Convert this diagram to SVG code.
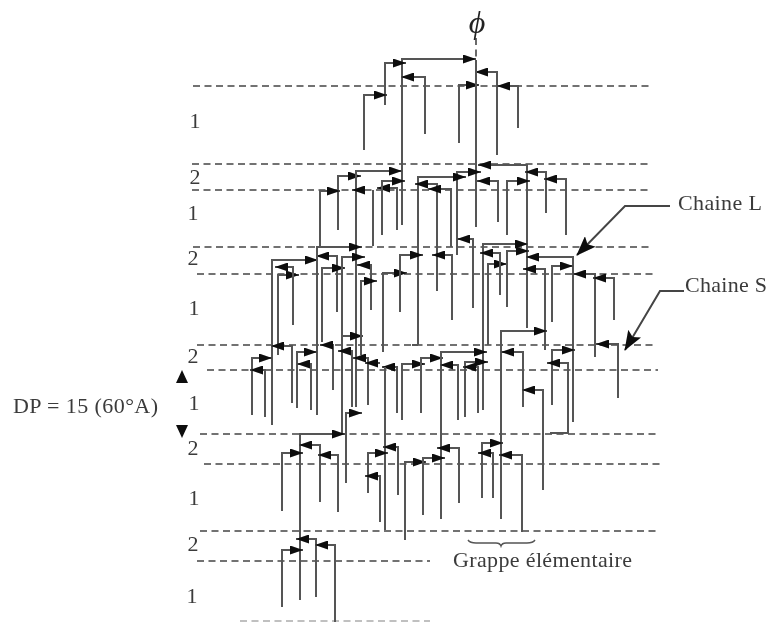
<svg xmlns="http://www.w3.org/2000/svg" width="768" height="622" viewBox="0 0 768 622">
<style>
.d{fill:none;stroke:#444;stroke-width:1.6;stroke-dasharray:7 4.5}
.s{fill:none;stroke:#555;stroke-width:2;marker-end:url(#a)}
.p{fill:none;stroke:#555;stroke-width:2}
.c{fill:none;stroke:#444;stroke-width:2;marker-end:url(#b)}
text{font-family:"Liberation Serif","Times New Roman",serif;fill:#3a3a3a;font-size:22px}
.n{text-anchor:middle}
</style>
<defs>
<marker id="a" markerUnits="userSpaceOnUse" viewBox="0 0 13 9" refX="13" refY="4.5" markerWidth="13" markerHeight="9" orient="auto"><path d="M0 0L13 4.5L0 9Z" fill="#0a0a0a"/></marker>
<marker id="b" markerUnits="userSpaceOnUse" viewBox="0 0 20 15" refX="19" refY="7.5" markerWidth="20" markerHeight="15" orient="auto"><path d="M0 0L20 7.5L0 15L4 7.5Z" fill="#0a0a0a"/></marker>
<filter id="f" x="-2%" y="-2%" width="104%" height="104%"><feGaussianBlur stdDeviation="0.6"/></filter>
</defs>
<rect width="768" height="622" fill="#fff"/>
<g filter="url(#f)">
<g id="levels">
<path class="d" d="M193 86H652M192 164H650M192 190H650M193 247H652M197 274H655M197 345H655M207 370H658M200 434H660M204 464H660M200 531H660M197 561H430"/>
<path d="M240 621H430" class="d" stroke-opacity=".45"/>
<path class="d" d="M476 38V60" stroke-dasharray="4 3"/>
</g>
<g id="connectors">
<path class="s" d="M402 170V59H476"/>
<path class="s" d="M385 105V63H406"/>
<path class="s" d="M364 150V95H387"/>
<path class="s" d="M425 134V77H401"/>
<path class="s" d="M459 143V85H479"/>
<path class="s" d="M497 155V72H475"/>
<path class="s" d="M518 128V86H497"/>
<path class="p" d="M476 60V227M402 170V225"/>
<path class="s" d="M527 328V165H478"/>
<path class="s" d="M457 255V172H481"/>
<path class="s" d="M418 345H412M418 345V177H466"/>
<path class="s" d="M498 222V181H477"/>
<path class="s" d="M507 235V181H530"/>
<path class="s" d="M546 213V172H525"/>
<path class="s" d="M566 235V179H544"/>
<path class="s" d="M338 230V176H361"/>
<path class="s" d="M356 407V171H402"/>
<path class="s" d="M365 190H352"/>
<path class="s" d="M320 247V191H340"/>
<path class="s" d="M397 230V188H377"/>
<path class="s" d="M382 235V181H405"/>
<path class="p" d="M373 246V190"/>
<path class="s" d="M437 291V184H415"/>
<path class="s" d="M451 247V189H428"/>
<path class="s" d="M272 425V260H318"/>
<path class="s" d="M278 355V275H299"/>
<path class="s" d="M293 325V267H275"/>
<path class="s" d="M337 312V256H316"/>
<path class="s" d="M322 342V268H345"/>
<path class="s" d="M317 415V247H362"/>
<path class="s" d="M342 434V257H365"/>
<path class="s" d="M342 336H363"/>
<path class="s" d="M371 310V265H357"/>
<path class="s" d="M361 355V281H377"/>
<path class="s" d="M383 352V273H407"/>
<path class="s" d="M400 312V255H423"/>
<path class="s" d="M452 320V255H432"/>
<path class="s" d="M473 308V239H457"/>
<path class="s" d="M483 410V244H528"/>
<path class="s" d="M488 345V264H507"/>
<path class="s" d="M500 295V253H480"/>
<path class="s" d="M507 307V251H529"/>
<path class="s" d="M573 422V257H526"/>
<path class="s" d="M545 350V269H523"/>
<path class="s" d="M552 322V266H573"/>
<path class="s" d="M595 357V274H573"/>
<path class="s" d="M614 320V278H593"/>
<path class="s" d="M252 415V358H272"/>
<path class="s" d="M265 417V370H250"/>
<path class="s" d="M292 403V346H271"/>
<path class="s" d="M297 408V352H317"/>
<path class="s" d="M311 410V364H297"/>
<path class="s" d="M333 390V345H320"/>
<path class="s" d="M352 407V351H338"/>
<path class="s" d="M368 405V358H353"/>
<path class="s" d="M380 363H365"/>
<path class="s" d="M397 413V367H382"/>
<path class="p" d="M385 367V530"/>
<path class="s" d="M402 420V364H425"/>
<path class="s" d="M421 413V358H443"/>
<path class="s" d="M441 519V352H487"/>
<path class="s" d="M458 420V365H440"/>
<path class="s" d="M465 417V362H488"/>
<path class="s" d="M478 413V367H463"/>
<path class="s" d="M552 405V350H575"/>
<path class="s" d="M550 433H568V363H547"/>
<path class="s" d="M618 398V344H596"/>
<path class="s" d="M501 519V331H547"/>
<path class="s" d="M523 407V352H501"/>
<path class="s" d="M543 490V390H522"/>
<path class="s" d="M300 600V434H345"/>
<path class="s" d="M346 483V413H362"/>
<path class="s" d="M282 511V453H303"/>
<path class="s" d="M320 502V445H299"/>
<path class="s" d="M338 512V455H318"/>
<path class="s" d="M368 493V453H388"/>
<path class="s" d="M398 495V447H383"/>
<path class="s" d="M380 522V476H365"/>
<path class="s" d="M405 540V462H426"/>
<path class="s" d="M423 515V458H445"/>
<path class="s" d="M459 503V448H437"/>
<path class="s" d="M482 498V443H503"/>
<path class="s" d="M493 498V453H478"/>
<path class="s" d="M522 532V455H499"/>
<path class="s" d="M282 607V550H303"/>
<path class="s" d="M316 597V539H296"/>
<path class="s" d="M335 622V545H315"/>
<path class="c" d="M670 206H625L577 255"/>
<path class="c" d="M684 291H660L625 350"/>
<path class="p" d="M468 540Q470 543 476 543H496Q500 543 501 546Q502 543 506 543H527Q533 543 535 540" style="stroke-width:1.4"/>
</g>
<g id="labels">
<text class="n" x="195" y="128">1</text>
<text class="n" x="195" y="184">2</text>
<text class="n" x="193" y="220">1</text>
<text class="n" x="193" y="265">2</text>
<text class="n" x="194" y="315">1</text>
<text class="n" x="193" y="363">2</text>
<text class="n" x="194" y="410">1</text>
<text class="n" x="193" y="455">2</text>
<text class="n" x="194" y="505">1</text>
<text class="n" x="193" y="551">2</text>
<text class="n" x="192" y="603">1</text>
<text x="13" y="413" textLength="145" lengthAdjust="spacing">DP = 15 (60°A)</text>
<text x="678" y="210" textLength="84" lengthAdjust="spacing">Chaine L</text>
<text x="685" y="292" textLength="82" lengthAdjust="spacing">Chaine S</text>
<text x="453" y="567" textLength="179" lengthAdjust="spacing">Grappe élémentaire</text>
<text x="477" y="33" text-anchor="middle" font-style="italic" style="font-size:32px;fill:#222">ϕ</text>
</g>
<g id="dp-arrows">
<path d="M182 370L188 383H176Z M182 438L188 425H176Z" fill="#111"/>
</g>
</g>
</svg>
